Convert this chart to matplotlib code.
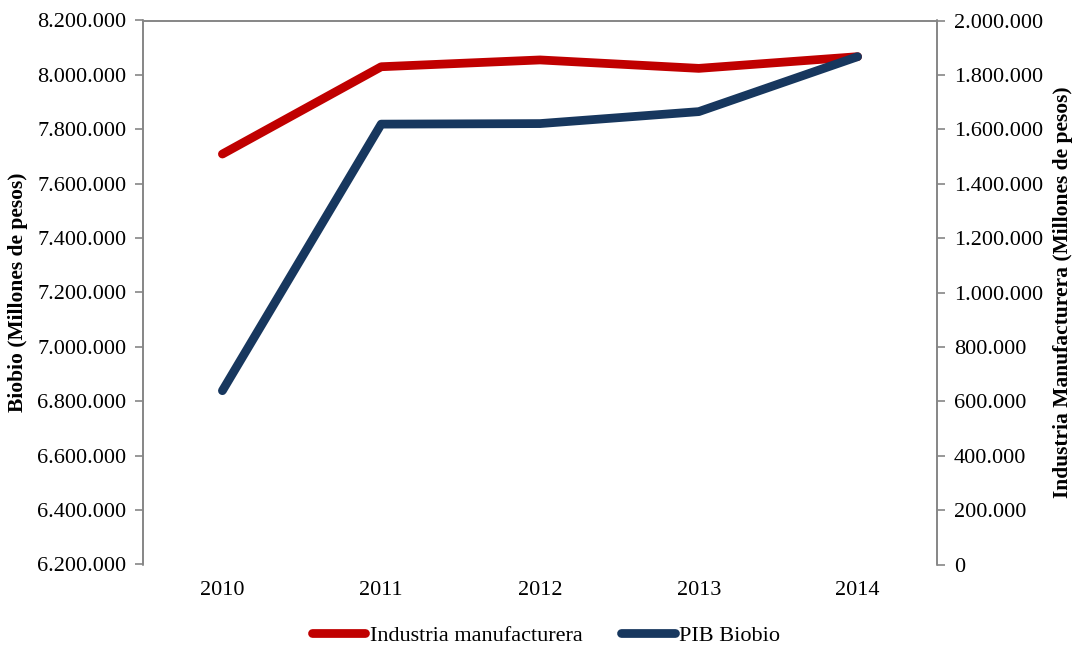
import matplotlib.pyplot as plt
from matplotlib.ticker import FuncFormatter
import numpy as np

plt.rcParams['font.family'] = ['Liberation Serif', 'DejaVu Serif']

# data (millones de pesos)
years = ['2010', '2011', '2012', '2013', '2014']
pib_biobio = [6839000, 7819000, 7821000, 7865000, 8067000]
industria = [1509000, 1830000, 1855000, 1824000, 1867000]

left_ticks = np.arange(6200000, 8200001, 200000)
right_ticks = np.arange(0, 2000001, 200000)

red = '#C00000'
blue = '#17375E'
gray = '#868686'


def miles(v, pos):
    return f'{int(round(v)):,}'.replace(',', '.')


fig = plt.figure(figsize=(10.73, 6.45), dpi=100)
ax = fig.add_axes([143 / 1073, 1 - 564.5 / 645, (937 - 143) / 1073, 544 / 645])
ax2 = ax.twinx()

x = np.arange(len(years)) + 0.5
l2, = ax.plot(x, pib_biobio, color=blue, lw=6.3, solid_capstyle='round',
              solid_joinstyle='round', label='PIB Biobio')
l1, = ax2.plot(x, industria, color=red, lw=6.3, solid_capstyle='round',
               solid_joinstyle='round', label='Industria manufacturera')
ax.set_zorder(ax2.get_zorder() + 1)
ax.patch.set_visible(False)

ax.set_xlim(0, len(years))
ax.set_xticks(x)
ax.set_xticklabels(years)
ax.set_ylim(6200000, 8200000)
ax.set_yticks(left_ticks)
ax2.set_ylim(0, 2000000)
ax2.set_yticks(right_ticks)
ax.yaxis.set_major_formatter(FuncFormatter(miles))
ax2.yaxis.set_major_formatter(FuncFormatter(miles))

for a in (ax, ax2):
    for s in a.spines.values():
        s.set_color(gray)
        s.set_linewidth(1.2)
    a.spines['bottom'].set_visible(False)
    a.tick_params(axis='y', colors=gray, labelcolor='black', labelsize=16,
                  length=6, width=1.2, direction='out', pad=6)
ax.tick_params(axis='x', length=0, labelsize=16, pad=12)

ax.set_ylabel('Biobio (Millones de pesos)', fontsize=15.5, fontweight='bold',
              va='center')
ax.yaxis.set_label_coords(-0.157, 0.5)
ax2.set_ylabel('Industria Manufacturera (Millones de pesos)', fontsize=15.5,
               fontweight='bold', va='center')
ax2.yaxis.set_label_coords(1.159, 0.5)

fig.legend(handles=[l1, l2], loc='center', bbox_to_anchor=(0.509, 0.015),
           ncol=2, frameon=False, fontsize=16, handlelength=2.4,
           handletextpad=0.2, columnspacing=1.75, borderpad=0.1)

fig.savefig('out.png', dpi=100)
